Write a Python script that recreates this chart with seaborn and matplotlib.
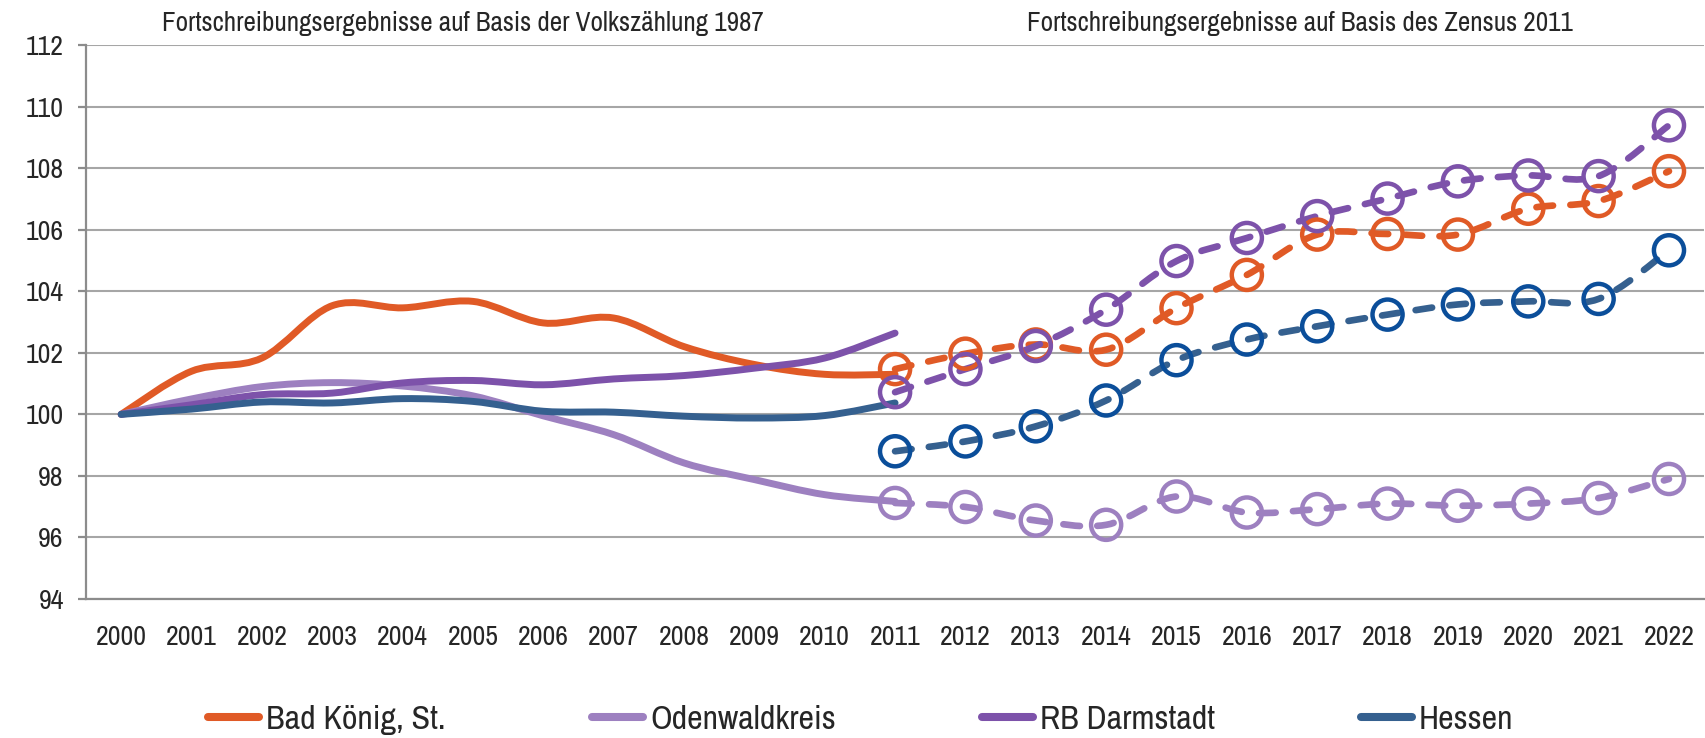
import numpy as np
import matplotlib
matplotlib.use("Agg")
import matplotlib.pyplot as plt
from matplotlib.path import Path
from matplotlib.patches import PathPatch
from matplotlib.lines import Line2D
import seaborn as sns

# Kategorien (Jahre)
years = [str(y) for y in range(2000, 2023)]
years_vz = years[:12]    # 2000-2011, Basis Volkszaehlung 1987
years_zen = years[11:]   # 2011-2022, Basis Zensus 2011

# Indexwerte 2000 = 100, Basis Volkszaehlung 1987
bad_koenig_vz = [100.0, 101.4, 101.83, 103.53, 103.46, 103.67, 102.97, 103.13, 102.2, 101.62, 101.3, 101.3]
odenwald_vz = [100.0, 100.5, 100.9, 101.03, 100.92, 100.6, 99.95, 99.34, 98.42, 97.88, 97.39, 97.17]
rb_darmstadt_vz = [100.0, 100.31, 100.64, 100.69, 101.02, 101.1, 100.96, 101.15, 101.26, 101.5, 101.83, 102.64]
hessen_vz = [100.0, 100.17, 100.4, 100.37, 100.51, 100.42, 100.1, 100.07, 99.94, 99.88, 99.96, 100.37]

# Basis Zensus 2011
bad_koenig_zen = [101.47, 101.97, 102.27, 102.1, 103.45, 104.53, 105.84, 105.86, 105.84, 106.68, 106.93, 107.9]
odenwald_zen = [97.12, 96.99, 96.55, 96.41, 97.33, 96.81, 96.92, 97.1, 97.03, 97.1, 97.28, 97.9]
rb_darmstadt_zen = [100.72, 101.47, 102.22, 103.4, 104.98, 105.73, 106.44, 107.01, 107.57, 107.76, 107.74, 109.39]
hessen_zen = [98.8, 99.12, 99.61, 100.45, 101.76, 102.43, 102.86, 103.24, 103.57, 103.67, 103.75, 105.33]

names = ["Bad König, St.", "Odenwaldkreis", "RB Darmstadt", "Hessen"]
colors = ["#E05A26", "#9D80C0", "#7D52AA", "#35608F"]
marker_colors = ["#E05A26", "#9D80C0", "#7D52AA", "#0B4E9A"]

series_vz = [bad_koenig_vz, odenwald_vz, rb_darmstadt_vz, hessen_vz]
series_zen = [bad_koenig_zen, odenwald_zen, rb_darmstadt_zen, hessen_zen]

sns.set_style("white")
plt.rcParams["font.family"] = ["Liberation Sans Narrow", "Archivo Narrow", "Liberation Sans", "DejaVu Sans"]


def smooth_path(xs, ys):
    # geglaettete Linie wie in Excel (Catmull-Rom als Bezier)
    pts = np.column_stack([xs, ys]).astype(float)
    n = len(pts)
    verts = [pts[0]]
    codes = [Path.MOVETO]
    for i in range(n - 1):
        p0 = pts[i - 1] if i > 0 else pts[i]
        p1 = pts[i]
        p2 = pts[i + 1]
        p3 = pts[i + 2] if i + 2 < n else pts[i + 1]
        verts += [p1 + (p2 - p0) / 6, p2 - (p3 - p1) / 6, p2]
        codes += [Path.CURVE4] * 3
    return Path(verts, codes)


fig = plt.figure(figsize=(17.05, 7.38), dpi=100)
ax = fig.add_axes([86 / 1705, 1 - 599 / 738, 1 - 86 / 1705 - 0.0005, (599 - 45) / 738])

pos = {y: i for i, y in enumerate(years)}
x_vz = [pos[y] for y in years_vz]
x_zen = [pos[y] for y in years_zen]

# durchgezogene Linien
for vals, c in zip(series_vz, colors):
    ax.add_patch(PathPatch(smooth_path(x_vz, vals), fill=False, edgecolor=c,
                           lw=5.0, capstyle="round", joinstyle="round", zorder=3))

# gestrichelte Linien mit Kreisen
for vals, c, mc in zip(series_zen, colors, marker_colors):
    ax.add_patch(PathPatch(smooth_path(x_zen, vals), fill=False, edgecolor=c,
                           lw=4.8, linestyle=(0, (2.5, 2.6)), capstyle="round",
                           joinstyle="round", zorder=4))
    sns.scatterplot(x=x_zen, y=vals, ax=ax, marker="o", s=470, facecolors="none",
                    edgecolor=mc, linewidth=3.2, zorder=5, legend=False)

ax.set_xlim(-0.5, len(years) - 0.5)
ax.set_ylim(94, 112)
ax.set_yticks(np.arange(94, 113, 2))
ax.set_xticks(range(len(years)))
ax.set_xticklabels(years)
ax.set_xticks(np.arange(-0.5, len(years), 1), minor=True)
ax.yaxis.grid(True, color="#A6A6A6", lw=1.5)
ax.set_axisbelow(True)

for s in ["top", "right"]:
    ax.spines[s].set_visible(False)
for s in ["left", "bottom"]:
    ax.spines[s].set_color("#8C8C8C")
    ax.spines[s].set_linewidth(1.6)

ax.tick_params(axis="x", which="major", length=0, pad=19, labelsize=20)
ax.tick_params(axis="x", which="minor", length=6, width=1.6, color="#8C8C8C", direction="out")
ax.tick_params(axis="y", length=6, width=1.6, color="#8C8C8C", pad=10, labelsize=20, left=True)
ax.set_xlabel("")
ax.set_ylabel("")

fig.text(463 / 1705, 1 - 24 / 738, "Fortschreibungsergebnisse auf Basis der Volkszählung 1987",
         ha="center", va="center", fontsize=19.5)
fig.text(1300 / 1705, 1 - 24 / 738, "Fortschreibungsergebnisse auf Basis des Zensus 2011",
         ha="center", va="center", fontsize=19.5)

handles = [Line2D([], [], color=c, lw=5.8, solid_capstyle="round") for c in colors]
fig.legend(handles, names, loc="center", bbox_to_anchor=(861 / 1705, 1 - 720 / 738),
           ncol=4, frameon=False, fontsize=24.5, handlelength=1.5, handletextpad=0.2,
           columnspacing=4.3, borderaxespad=0)

fig.savefig("out.png", dpi=100)
